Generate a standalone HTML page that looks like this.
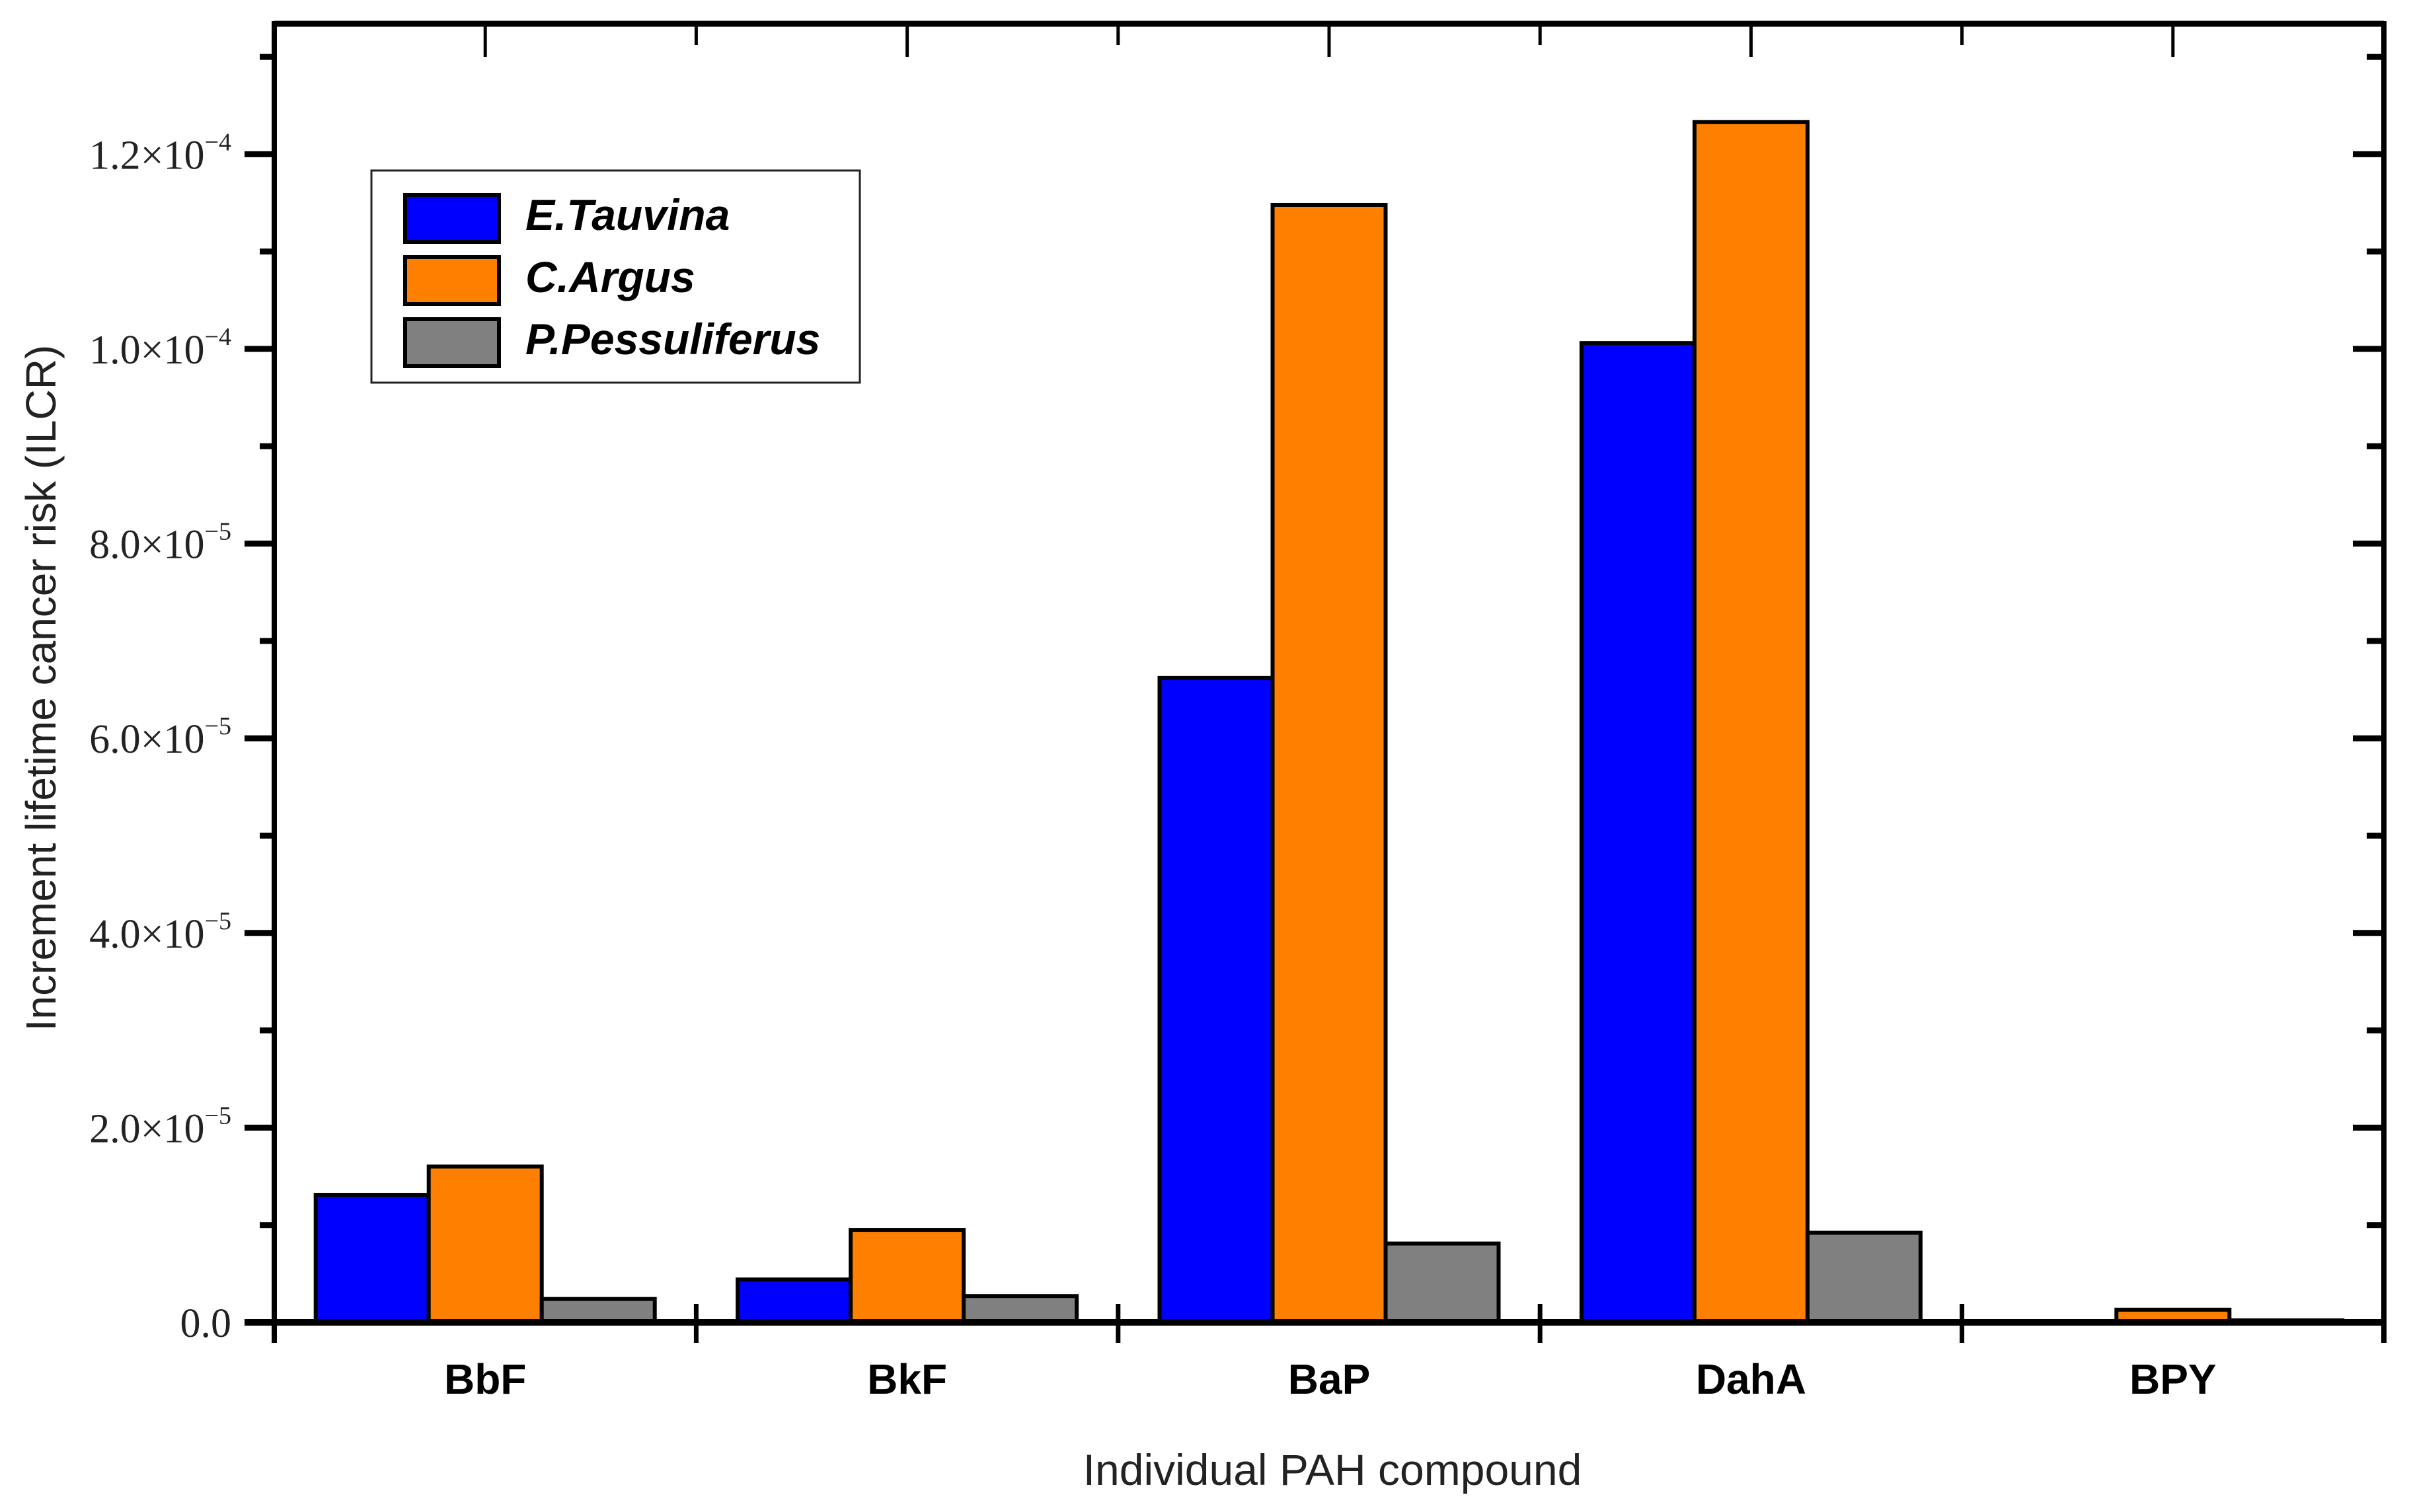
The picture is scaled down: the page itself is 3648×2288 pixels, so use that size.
<!DOCTYPE html>
<html><head><meta charset="utf-8"><style>
html,body{margin:0;padding:0;background:#fff;}
svg{display:block;}
</style></head><body>
<svg id="chart" width="3648" height="2288" viewBox="0 0 3648 2288" xmlns="http://www.w3.org/2000/svg">
<g id="bars"></g>
<g id="axes"></g>
<g id="ticklabels"></g>
<text x="2016" y="2247" font-family="Liberation Sans, sans-serif" font-size="66" fill="#222" text-anchor="middle">Individual PAH compound</text>
<text transform="translate(84,1041) rotate(-90)" font-family="Liberation Sans, sans-serif" font-size="64" fill="#222" text-anchor="middle">Increment lifetime cancer risk (ILCR)</text>
<g>
<rect x="562" y="258" width="739" height="321" fill="#fff" stroke="#222" stroke-width="3"/>
<rect x="613" y="295" width="142" height="71" fill="#0000FF" stroke="#000" stroke-width="6"/>
<text x="795" y="348" font-family="Liberation Sans, sans-serif" font-size="66" font-weight="bold" font-style="italic">E.Tauvina</text>
<rect x="613" y="389" width="142" height="71" fill="#FF8000" stroke="#000" stroke-width="6"/>
<text x="795" y="442" font-family="Liberation Sans, sans-serif" font-size="66" font-weight="bold" font-style="italic">C.Argus</text>
<rect x="613" y="483" width="142" height="71" fill="#808080" stroke="#000" stroke-width="6"/>
<text x="795" y="536" font-family="Liberation Sans, sans-serif" font-size="66" font-weight="bold" font-style="italic">P.Pessuliferus</text>
</g>
</svg>
<script>
const categories = ["BbF","BkF","BaP","DahA","BPY"];
const eTauvina = [1.31e-5, 0.44e-5, 6.62e-5, 10.06e-5, 0];
const cArgus = [1.60e-5, 0.95e-5, 11.48e-5, 12.33e-5, 0.13e-5];
const pPessuliferus = [0.24e-5, 0.27e-5, 0.81e-5, 0.92e-5, 0.02e-5];
const yTicks = [0, 2e-5, 4e-5, 6e-5, 8e-5, 1.0e-4, 1.2e-4];
const yTickMantissa = ["0.0","2.0","4.0","6.0","8.0","1.0","1.2"];
const yTickExp = ["","-5","-5","-5","-5","-4","-4"];

const NS = "http://www.w3.org/2000/svg";
const L = 415, R = 3607, T = 36, B = 2001;
const yMax = 1.334e-4;
const catW = (R - L) / categories.length;
function y(v){ return B - (v / yMax) * (B - T); }
function xCat(i){ return L + i * catW; }
function mk(tag, attrs, parent){
  const e = document.createElementNS(NS, tag);
  for (const k in attrs) e.setAttribute(k, attrs[k]);
  parent.appendChild(e); return e;
}
const bars = document.getElementById('bars');
const axes = document.getElementById('axes');
const tl = document.getElementById('ticklabels');
const series = [[eTauvina,"#0000FF","e-tauvina"],[cArgus,"#FF8000","c-argus"],[pPessuliferus,"#808080","p-pessuliferus"]];
const bw = 171, gOff = (catW - 3*bw)/2;
categories.forEach((c,i)=>{
  series.forEach((s,j)=>{
    const v = s[0][i];
    const x0 = xCat(i) + gOff + j*bw;
    const yt = y(v);
    const r = mk('rect',{x:x0,y:yt,width:bw,height:Math.max(B-yt,0),fill:s[1],stroke:"#000","stroke-width":6},bars);
    
    
  });
  const t = mk('text',{x:xCat(i)+catW/2,y:2109,"font-family":"Liberation Sans, sans-serif","font-size":64,"font-weight":"bold","text-anchor":"middle"},tl);
  t.textContent = c;
  
  
});
mk('line',{x1:L,y1:T,x2:R,y2:T,stroke:"#000","stroke-width":9},axes);
mk('line',{x1:L,y1:T-4,x2:L,y2:B+31,stroke:"#000","stroke-width":8},axes);
mk('line',{x1:R,y1:T-4,x2:R,y2:B+31,stroke:"#000","stroke-width":8},axes);
mk('line',{x1:L-45,y1:B,x2:R,y2:B,stroke:"#000","stroke-width":10},axes);
for (let i=0;i<=categories.length;i++){
  const x = xCat(i);
  mk('line',{x1:x,y1:B-28,x2:x,y2:B+31,stroke:"#000","stroke-width":7},axes);
  if (i>0 && i<categories.length) mk('line',{x1:x,y1:T,x2:x,y2:T+32,stroke:"#000","stroke-width":5},axes);
  if (i<categories.length) mk('line',{x1:x+catW/2,y1:T,x2:x+catW/2,y2:T+50,stroke:"#000","stroke-width":5},axes);
}
yTicks.forEach((v,k)=>{
  const yy = y(v);
  mk('line',{x1:L-45,y1:yy,x2:L,y2:yy,stroke:"#000","stroke-width":9},axes);
  mk('line',{x1:R-47,y1:yy,x2:R,y2:yy,stroke:"#000","stroke-width":9},axes);
  const ym = y(v + 1e-5);
  if (ym > T){
    mk('line',{x1:L-22,y1:ym,x2:L,y2:ym,stroke:"#000","stroke-width":9},axes);
    mk('line',{x1:R-26,y1:ym,x2:R,y2:ym,stroke:"#000","stroke-width":9},axes);
  }
  const t = mk('text',{x:350,y:yy+22,"font-family":"Liberation Serif, serif","font-size":62,"text-anchor":"end",fill:"#222"},tl);
  
  
  if (yTickExp[k]===""){
    t.textContent = yTickMantissa[k];
  } else {
    const a = mk('tspan',{},t); a.textContent = yTickMantissa[k] + "\u00d710";
    const b = mk('tspan',{dy:-28,"font-size":38},t); b.textContent = yTickExp[k].replace("-","\u2212");
  }
});
</script>
</body></html>
